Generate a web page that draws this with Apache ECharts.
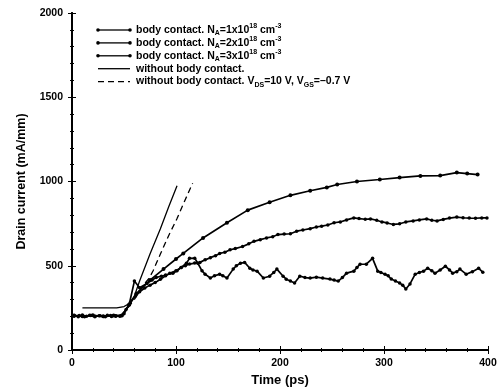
<!DOCTYPE html>
<html><head><meta charset="utf-8">
<script src="https://cdn.jsdelivr.net/npm/echarts@6/dist/echarts.min.js"></script>
<style>html,body{margin:0;padding:0;background:#fff}#c{width:500px;height:392px}</style>
</head><body><div id="c"></div>
<script>
const xTicks = [0, 100, 200, 300, 400];
const yTicks = [0, 500, 1000, 1500, 2000];
const seriesNames = ['s1', 's2', 's3', 's4', 's5'];
const legendTexts = [
  'body contact. N{sub|A}=1x10{sup|18} cm{sup|-3}',
  'body contact. N{sub|A}=2x10{sup|18} cm{sup|-3}',
  'body contact. N{sub|A}=3x10{sup|18} cm{sup|-3}',
  'without body contact.',
  'without body contact. V{sub|DS}=10 V, V{sub|GS}=\u20130.7 V'
];
// body contact, NA=1e18
const s1 = [[2,205],[10,200],[20,206],[30,200],[40,205],[48,205],[55,268],[62,335],[75,415],[88,480],[100,540],[107,573],[126,665],[149,755],[169,830],[190,877],[210,918],[229,945],[245,965],[255,982],[274,1000],[296,1012],[315,1023],[335,1033],[354,1035],[370,1053],[380,1047],[390,1041]];
// body contact, NA=2e18
const s2 = [[2,200],[7,205],[12,198],[17,206],[22,200],[27,204],[32,197],[37,205],[42,200],[47,203],[52,240],[56,280],[61,320],[65,345],[70,368],[75,385],[80,400],[85,420],[90,440],[94,455],[100,470],[105,490],[109,500],[113,510],[118,516],[123,520],[128,535],[133,548],[138,560],[142,573],[147,580],[152,595],[157,602],[164,614],[170,630],[175,645],[181,655],[187,665],[193,672],[198,685],[204,688],[210,690],[216,705],[222,712],[229,720],[235,730],[240,735],[246,742],[252,755],[258,760],[264,772],[271,784],[276,780],[282,776],[287,778],[293,770],[298,760],[303,754],[309,745],[315,749],[321,760],[328,766],[334,772],[341,778],[346,770],[351,766],[357,775],[363,783],[370,789],[376,785],[382,783],[388,782],[394,784],[399,784]];
// body contact, NA=3e18
const s3 = [[2,205],[6,198],[10,207],[14,200],[18,205],[22,197],[26,204],[30,199],[34,206],[38,199],[42,204],[46,200],[50,215],[55,270],[60,409],[65,370],[72,395],[77,415],[81,430],[86,438],[90,445],[97,456],[101,470],[105,490],[110,515],[113,544],[118,545],[121,515],[125,470],[128,450],[133,427],[137,440],[142,450],[145,440],[149,427],[155,480],[158,500],[162,515],[166,520],[171,485],[174,475],[178,468],[184,427],[190,438],[194,460],[197,480],[203,438],[206,420],[210,409],[214,398],[219,438],[224,430],[229,427],[235,432],[241,427],[248,421],[252,415],[256,409],[260,430],[264,456],[271,468],[274,490],[277,509],[283,509],[289,544],[294,468],[297,460],[301,450],[304,440],[307,421],[311,410],[315,398],[318,385],[321,362],[325,392],[330,450],[334,460],[338,468],[342,485],[346,470],[349,456],[354,475],[359,497],[363,475],[366,456],[370,465],[373,480],[379,450],[385,465],[391,485],[395,462]];
// without body contact
const s4 = [[10,250],[25,250],[43,250],[50,258],[55,275],[60,320],[65,410],[75,570],[85,720],[93,850],[101,975]];
// without body contact, VDS=10V, VGS=-0.7V
const s5 = [[48,205],[60,300],[68,380],[74,425],[78,470],[85,570],[93,680],[101,780],[108,880],[116,990]];

const chart = echarts.init(document.getElementById('c'));
const F = 'Liberation Sans, Arial, sans-serif';
const rich = {
  sub: {fontSize: 7, fontWeight: 'bold', fontFamily: F, fill: '#000', color: '#000', padding: [6, 0, 0, 0]},
  sup: {fontSize: 7, fontWeight: 'bold', fontFamily: F, fill: '#000', color: '#000', padding: [0, 0, 7, 0]}
};
const axisBase = {
  min: 0,
  axisLine: {show: true, lineStyle: {color: '#000', width: 2}},
  axisTick: {show: true, inside: true, length: 4, lineStyle: {color: '#000', width: 1}},
  minorTick: {show: true, splitNumber: 5, length: 2, lineStyle: {color: '#000'}},
  splitLine: {show: false}
};
const mk = (name, data, opts) => Object.assign({
  name, type: 'line', data, smooth: false,
  showSymbol: true, showAllSymbol: true, symbol: 'circle', symbolSize: 4,
  lineStyle: {color: '#000', width: 1.7}, itemStyle: {color: '#000'},
  animation: false
}, opts || {});

// legend drawn as graphic elements
const legendGraphics = [];
const LX0 = 98, LX1 = 130, LY0 = 30, LDY = 12.9;
legendTexts.forEach((t, i) => {
  const y = LY0 + i * LDY;
  legendGraphics.push({type: 'line', shape: {x1: LX0, y1: y, x2: LX1, y2: y},
    style: {stroke: '#000', lineWidth: 1.3, lineDash: i === 4 ? [6, 4] : null}});
  if (i < 3) {
    legendGraphics.push({type: 'circle', shape: {cx: LX0, cy: y, r: 1.8}, style: {fill: '#000'}});
    legendGraphics.push({type: 'circle', shape: {cx: LX1, cy: y, r: 1.8}, style: {fill: '#000'}});
  }
  legendGraphics.push({type: 'text', x: 136, y: y, style: {
    text: t, rich, fill: '#000', font: 'bold 10.5px ' + F, verticalAlign: 'middle', align: 'left'}});
});

chart.setOption({
  animation: false,
  grid: {left: 72, right: 12, top: 13, bottom: 37},
  graphic: legendGraphics,
  xAxis: [
    Object.assign({}, axisBase, {type: 'value', max: 400, interval: 100,
      name: 'Time (ps)', nameLocation: 'middle', nameGap: 24,
      nameTextStyle: {fontSize: 13, fontWeight: 'bold', fontFamily: F, color: '#000'},
      axisLabel: {fontSize: 10.5, fontWeight: 'bold', fontFamily: F, color: '#000', margin: 8,
        formatter: v => xTicks.includes(v) ? String(v) : ''}}),
    Object.assign({}, axisBase, {type: 'value', max: 400, interval: 100, position: 'top', axisLabel: {show: false}})
  ],
  yAxis: [
    Object.assign({}, axisBase, {type: 'value', max: 2000, interval: 500,
      name: 'Drain current (mA/mm)', nameLocation: 'middle', nameGap: 44,
      nameTextStyle: {fontSize: 12.5, fontWeight: 'bold', fontFamily: F, color: '#000'},
      axisLabel: {fontSize: 10.5, fontWeight: 'bold', fontFamily: F, color: '#000', margin: 9,
        formatter: v => yTicks.includes(v) ? String(v) : ''}}),
    Object.assign({}, axisBase, {type: 'value', max: 2000, interval: 500, position: 'right', axisLabel: {show: false}})
  ],
  series: [
    mk('s1', s1),
    mk('s2', s2, {symbolSize: 3.5}),
    mk('s3', s3, {symbolSize: 3.5}),
    mk('s4', s4, {showSymbol: false, symbol: 'none', lineStyle: {color: '#000', width: 1.3}}),
    mk('s5', s5, {showSymbol: false, symbol: 'none', lineStyle: {color: '#000', width: 1.3, type: [6, 4]}})
  ]
});
</script></body></html>
